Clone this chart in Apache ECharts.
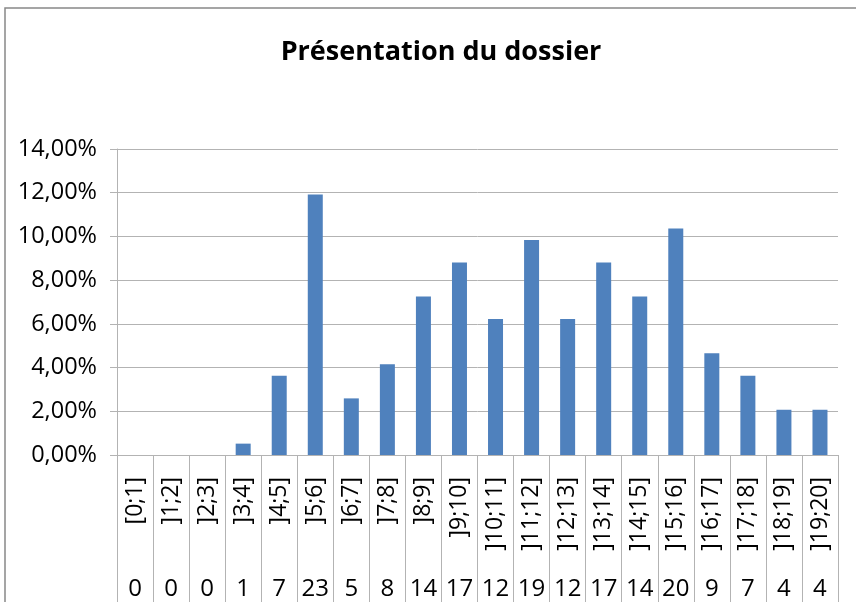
<!DOCTYPE html>
<html>
<head>
<meta charset="utf-8">
<script src="https://cdn.jsdelivr.net/npm/echarts@6/dist/echarts.min.js"></script>
<style>
  html, body { margin: 0; padding: 0; background: #fff; }
  #chart { width: 856px; height: 602px; }
</style>
</head>
<body>
<div id="chart"></div>
<script>
// intervalles de notes
const categories = ['[0;1]', ']1;2]', ']2;3]', ']3;4]', ']4;5]', ']5;6]', ']6;7]', ']7;8]', ']8;9]', ']9;10]',
  ']10;11]', ']11;12]', ']12;13]', ']13;14]', ']14;15]', ']15;16]', ']16;17]', ']17;18]', ']18;19]', ']19;20]'];

// effectifs (ligne du tableau)
const counts = [0, 0, 0, 1, 7, 23, 5, 8, 14, 17, 12, 19, 12, 17, 14, 20, 9, 7, 4, 4];

// pourcentages
const percents = [0, 0, 0, 0.0052, 0.0363, 0.1192, 0.0259, 0.0415, 0.0725, 0.0881,
  0.0622, 0.0984, 0.0622, 0.0881, 0.0725, 0.1036, 0.0466, 0.0363, 0.0207, 0.0207];

const yTicks = { min: 0, max: 0.14, interval: 0.02 };

const font = 'Open Sans';
const lineGray = '#b3b3b3';

const chart = echarts.init(document.getElementById('chart'));

chart.setOption({
  animation: false,
  backgroundColor: '#fff',
  title: {
    text: 'Présentation du dossier',
    left: 436,
    top: 34,
    textAlign: 'center',
    textStyle: { fontFamily: font, fontSize: 27, fontWeight: 'bold', color: '#000' }
  },
  graphic: [{
    type: 'rect',
    shape: { x: 5, y: 8, width: 900, height: 700 },
    style: { fill: 'none', stroke: '#888', lineWidth: 1.5 },
    silent: true
  }],
  grid: { left: 117, right: 18, top: 149, bottom: 147 },
  xAxis: [{
    type: 'category',
    data: categories,
    axisLine: { show: true, lineStyle: { color: lineGray } },
    axisTick: { show: true, length: 150, interval: 0, lineStyle: { color: lineGray } },
    axisLabel: {
      rotate: 90,
      margin: 22,
      interval: 0,
      fontFamily: font,
      fontSize: 23,
      color: '#000'
    }
  }, {
    type: 'category',
    position: 'bottom',
    offset: 114,
    data: counts.map(String),
    axisLine: { show: false },
    axisTick: { show: false },
    axisLabel: {
      interval: 0,
      margin: 8,
      fontFamily: font,
      fontSize: 24,
      color: '#000'
    }
  }],
  yAxis: {
    type: 'value',
    min: yTicks.min,
    max: yTicks.max,
    interval: yTicks.interval,
    axisLine: { show: true, lineStyle: { color: lineGray } },
    axisTick: { show: true, length: 7, lineStyle: { color: lineGray } },
    splitLine: { lineStyle: { color: lineGray } },
    axisLabel: {
      margin: 20,
      fontFamily: font,
      fontSize: 23.5,
      color: '#000',
      formatter: v => (v * 100).toFixed(2).replace('.', ',') + '%'
    }
  },
  series: [{
    type: 'bar',
    data: percents,
    xAxisIndex: 0,
    barWidth: 15,
    itemStyle: { color: '#4f81bd' }
  }]
});
</script>
</body>
</html>
